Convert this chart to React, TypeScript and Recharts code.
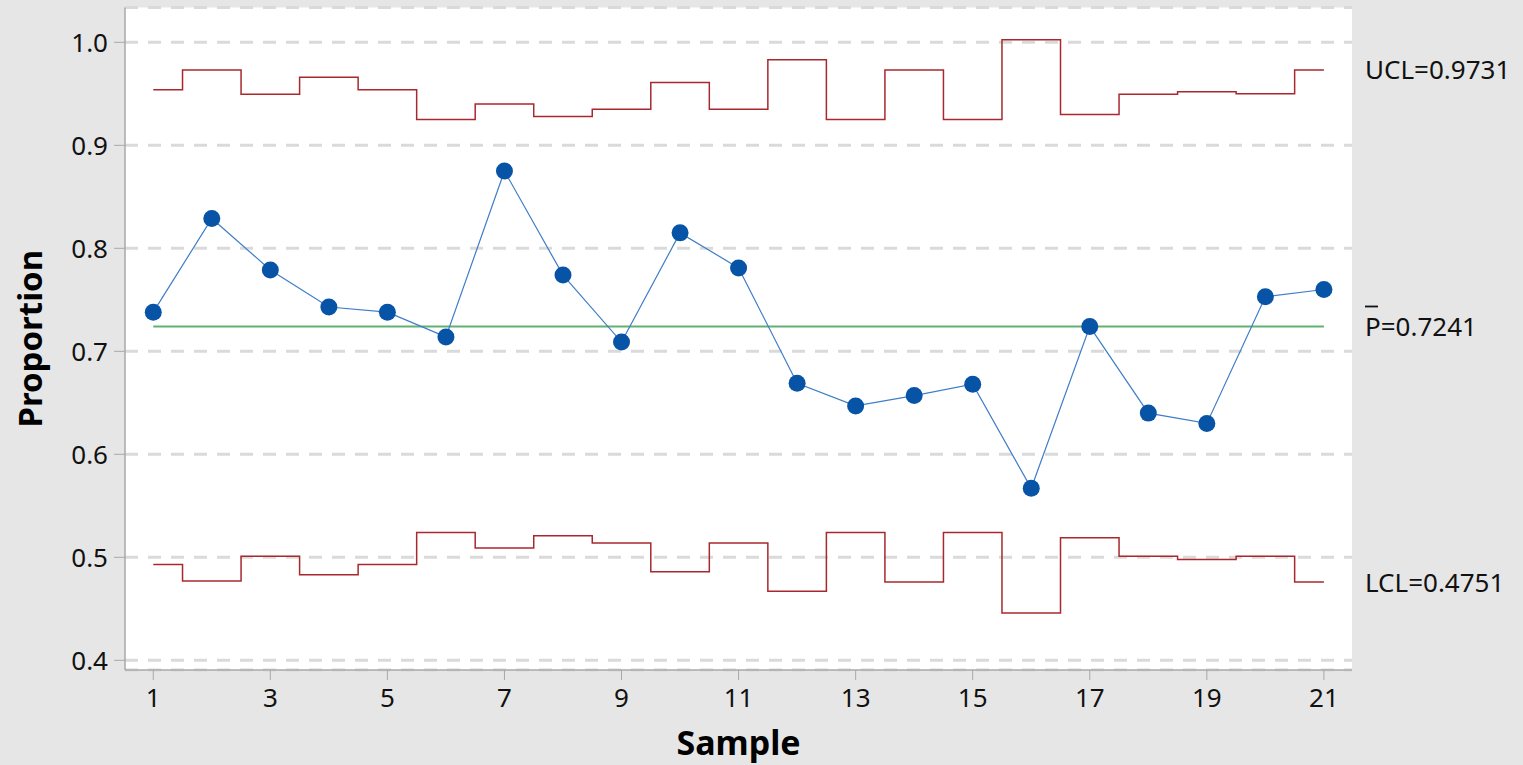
import { LineChart, Line, XAxis, YAxis, CartesianGrid, ReferenceLine } from 'recharts'

const samples = [1, 2, 3, 4, 5, 6, 7, 8, 9, 10, 11, 12, 13, 14, 15, 16, 17, 18, 19, 20, 21]
const proportions = [
  0.738, 0.829, 0.779, 0.743, 0.738, 0.714, 0.875, 0.774, 0.709, 0.815, 0.781,
  0.669, 0.647, 0.657, 0.668, 0.567, 0.724, 0.64, 0.63, 0.753, 0.76,
]
const ucl = [
  0.954, 0.973, 0.9495, 0.966, 0.954, 0.925, 0.94, 0.928, 0.935, 0.961, 0.935,
  0.983, 0.925, 0.973, 0.925, 1.0026, 0.93, 0.9495, 0.952, 0.95, 0.973,
]
const lcl = [
  0.493, 0.477, 0.501, 0.483, 0.493, 0.524, 0.509, 0.521, 0.514, 0.486, 0.514,
  0.467, 0.524, 0.476, 0.524, 0.446, 0.519, 0.501, 0.498, 0.501, 0.476,
]
const xTicks = [1, 3, 5, 7, 9, 11, 13, 15, 17, 19, 21]
const yTicks = [0.4, 0.5, 0.6, 0.7, 0.8, 0.9, 1.0]
const CENTER = 0.7241
const UCL_LABEL = 0.9731
const LCL_LABEL = 0.4751

const data = samples.map((s, i) => ({ sample: s, p: proportions[i], ucl: ucl[i], lcl: lcl[i] }))

const FONT = '"Noto Sans", "Open Sans", sans-serif'
const BORDER = '#a8a8a8'
const LIMIT_RED = '#a8282d'

const tickStyle = { fontSize: 26, fill: '#111', fontFamily: FONT }

function sideLabel(text: string, bar?: boolean) {
  return (props: any) => {
    const vb = props.viewBox
    const x = vb.x + vb.width + 13
    const y = vb.y
    return (
      <g>
        <text x={x} y={y} dy="0.36em" fontSize={26} fill="#111" fontFamily={FONT}>
          {text}
        </text>
        {bar && <line x1={x} x2={x + 13} y1={y - 20} y2={y - 20} stroke="#111" strokeWidth={1.8} />}
      </g>
    )
  }
}

export default function App() {
  return (
    <div style={{ width: 1523, height: 765, background: '#e6e6e6' }}>
      <style>{'body{margin:0}'}</style>
      <LineChart
        width={1523}
        height={765}
        data={data}
        margin={{ top: 7.5, right: 171, bottom: 0, left: 0 }}
      >
        <CartesianGrid
          vertical={false}
          fill="#ffffff"
          stroke="#dadada"
          strokeWidth={3}
          strokeDasharray="13 10"
        />
        <XAxis
          dataKey="sample"
          type="number"
          domain={[0.517, 21.48]}
          ticks={xTicks}
          allowDataOverflow
          height={95}
          tick={tickStyle}
          tickSize={10}
          tickMargin={9}
          tickLine={{ stroke: BORDER }}
          axisLine={{ stroke: BORDER, strokeWidth: 1.5 }}
          label={(props: any) => {
            const vb = props.viewBox
            return (
              <text
                x={vb.x + vb.width / 2}
                y={755}
                textAnchor="middle"
                fontSize={34}
                fontWeight="bold"
                fill="#000"
                fontFamily={FONT}
              >
                Sample
              </text>
            )
          }}
        />
        <XAxis
          xAxisId="top"
          orientation="top"
          type="number"
          domain={[0.517, 21.48]}
          height={0}
          tick={false}
          tickLine={false}
          axisLine={{ stroke: BORDER, strokeWidth: 1.5 }}
        />
        <YAxis
          type="number"
          domain={[0.3906, 1.0338]}
          ticks={yTicks}
          allowDataOverflow
          width={125}
          tick={tickStyle}
          tickFormatter={(v: number) => v.toFixed(1)}
          tickSize={11}
          tickMargin={6}
          tickLine={{ stroke: BORDER }}
          axisLine={{ stroke: BORDER, strokeWidth: 1.5 }}
          label={(props: any) => {
            const vb = props.viewBox
            const cy = vb.y + vb.height / 2
            return (
              <text
                x={42}
                y={cy}
                transform={`rotate(-90, 42, ${cy})`}
                textAnchor="middle"
                fontSize={33}
                fontWeight="bold"
                fill="#000"
                fontFamily={FONT}
              >
                Proportion
              </text>
            )
          }}
        />
        <YAxis
          yAxisId="right"
          orientation="right"
          type="number"
          domain={[0.3906, 1.0338]}
          width={0}
          tick={false}
          tickLine={false}
          axisLine={{ stroke: BORDER, strokeWidth: 1.5 }}
        />
        <ReferenceLine y={UCL_LABEL} stroke="none" label={sideLabel('UCL=0.9731')} />
        <ReferenceLine y={CENTER} stroke="none" label={sideLabel('P=0.7241', true)} />
        <ReferenceLine y={LCL_LABEL} stroke="none" label={sideLabel('LCL=0.4751')} />
        <Line
          dataKey="ucl"
          type="step"
          stroke={LIMIT_RED}
          strokeWidth={1.5}
          dot={false}
          isAnimationActive={false}
        />
        <Line
          dataKey="lcl"
          type="step"
          stroke={LIMIT_RED}
          strokeWidth={1.5}
          dot={false}
          isAnimationActive={false}
        />
        <ReferenceLine
          segment={[
            { x: samples[0], y: CENTER },
            { x: samples[samples.length - 1], y: CENTER },
          ]}
          stroke="#62b072"
          strokeWidth={1.8}
        />
        <Line
          dataKey="p"
          type="linear"
          stroke="#3f7dc8"
          strokeWidth={1.2}
          dot={{ r: 8.5, fill: '#0754a6', stroke: '#0754a6', strokeWidth: 0 }}
          isAnimationActive={false}
        />
      </LineChart>
    </div>
  )
}
